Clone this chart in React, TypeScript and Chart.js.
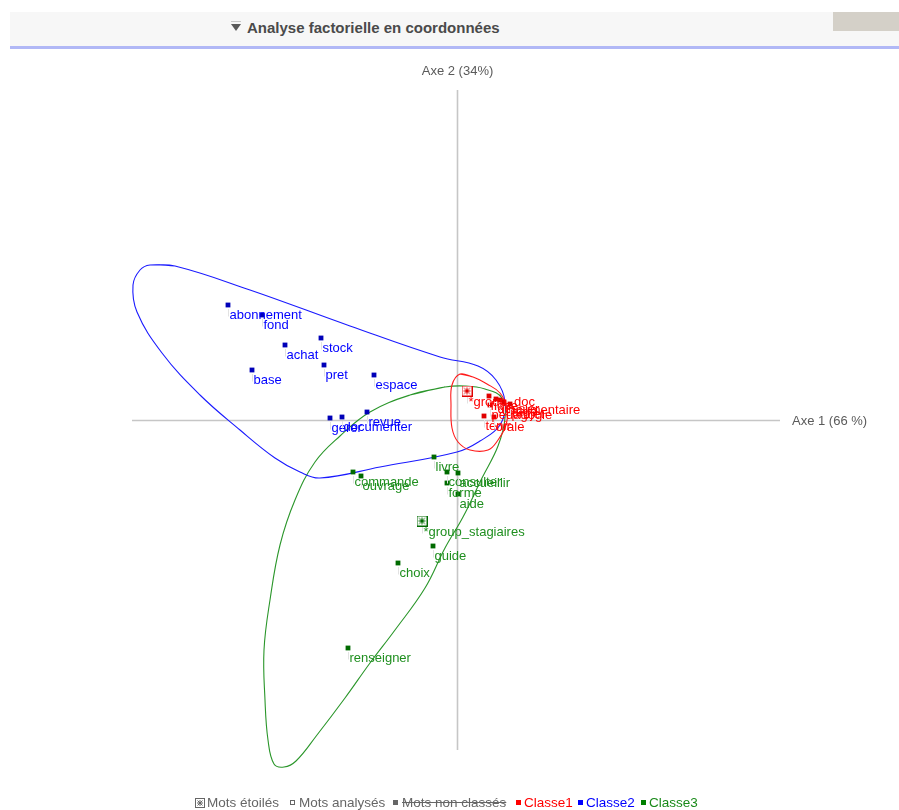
import React, { useEffect, useRef } from "react";
import { Chart, registerables } from "chart.js";

Chart.register(...registerables);

// ---- Data (factor coordinates: Axe 1 horizontal, Axe 2 vertical) ----
const class1Words = ["fiche", "dossier", "pédagogie", "documentaire", "stage", "projet", "tenir", "orale"];
const class1X = [0.32, 0.39, 0.33, 0.43, 0.47, 0.53, 0.27, 0.37];
const class1Y = [0.24, 0.21, 0.15, 0.2, 0.18, 0.16, 0.04, 0.03];

const class2Words = ["abonnement", "fond", "stock", "achat", "base", "pret", "espace", "revue", "gerer", "documenter"];
const class2X = [-2.29, -1.95, -1.36, -1.72, -2.05, -1.33, -0.83, -0.9, -1.27, -1.15];
const class2Y = [1.15, 1.05, 0.82, 0.75, 0.5, 0.55, 0.45, 0.08, 0.02, 0.03];

const class3Words = ["livre", "commande", "ouvrage", "consulter", "accueillir", "forme", "aide", "guide", "choix", "renseigner"];
const class3X = [-0.23, -1.04, -0.96, -0.1, 0.01, -0.1, 0.01, -0.24, -0.59, -1.09];
const class3Y = [-0.37, -0.52, -0.56, -0.52, -0.53, -0.63, -0.74, -1.26, -1.43, -2.28];

const starWords = ["*group_doc", "*group_stagiaires"];
const starX = [0.1, -0.35];
const starY = [0.29, -1.01];
const starClass = [0, 2];

const class1HullX = [0.03, 0.16, 0.3, 0.43, 0.5, 0.49, 0.41, 0.31, 0.13, 0.01, -0.05, -0.06, -0.05];
const class1HullY = [0.46, 0.43, 0.36, 0.27, 0.12, -0.05, -0.2, -0.3, -0.3, -0.22, -0.08, 0.15, 0.35];

const class2HullX = [-3.07, -2.82, -2.07, -1.07, -0.17, 0.21, 0.39, 0.48, 0.43, 0.23, 0.0, -0.77, -1.37, -1.57, -1.82, -2.17, -2.57, -2.95, -3.2, -3.24, -3.17];
const class2HullY = [1.55, 1.54, 1.3, 0.94, 0.63, 0.54, 0.4, 0.18, -0.05, -0.21, -0.32, -0.47, -0.58, -0.52, -0.38, -0.1, 0.25, 0.67, 1.08, 1.35, 1.5];

const class3HullX = [-0.12, -0.47, -0.87, -1.17, -1.42, -1.62, -1.77, -1.87, -1.93, -1.92, -1.89, -1.83, -1.73, -1.61, -1.4, -1.12, -0.87, -0.62, -0.32, -0.12, 0.06, 0.25, 0.41, 0.48, 0.45, 0.28, 0.08];
const class3HullY = [0.33, 0.25, 0.08, -0.16, -0.42, -0.8, -1.25, -1.8, -2.3, -2.8, -3.2, -3.44, -3.47, -3.41, -3.15, -2.78, -2.43, -2.1, -1.68, -1.28, -0.97, -0.58, -0.26, 0.02, 0.22, 0.31, 0.34];

const axisTitleX = "Axe 1 (66 %)";
const axisTitleY = "Axe 2 (34%)";
const headerTitle = "Analyse factorielle en coordonnées";
const legendLabels = ["Mots étoilés", "Mots analysés", "Mots non classés", "Classe1", "Classe2", "Classe3"];

const classColors = ["#ff0000", "#0000ff", "#1f8f1f"];
const markerColors = ["#e00000", "#0000b8", "#006a00"];
const hullColors = ["#ff1a1a", "#1a1aff", "#2a962a"];

const LABEL_FONT = '13px "Liberation Sans", Arial, sans-serif';

function toPoints(xs: number[], ys: number[]) {
  return xs.map((x, i) => ({ x, y: ys[i] }));
}
function closedLoop(xs: number[], ys: number[]) {
  const pts = toPoints(xs, ys);
  return [...pts, pts[0], pts[1]];
}

function makeStarIcon(color: string) {
  const c = document.createElement("canvas");
  c.width = 11;
  c.height = 11;
  const g = c.getContext("2d")!;
  g.fillStyle = "#ffffff";
  g.fillRect(0, 0, 11, 11);
  g.strokeStyle = color;
  g.lineWidth = 1;
  g.strokeRect(0.5, 0.5, 10, 10);
  g.beginPath();
  g.moveTo(5.5, 2);
  g.lineTo(5.5, 9);
  g.moveTo(2, 5.5);
  g.lineTo(9, 5.5);
  g.moveTo(2.5, 2.5);
  g.lineTo(8.5, 8.5);
  g.moveTo(8.5, 2.5);
  g.lineTo(2.5, 8.5);
  g.stroke();
  return c;
}

const axesPlugin = {
  id: "crossAxes",
  beforeDatasetsDraw(chart: any) {
    const { ctx, chartArea, scales } = chart;
    const x0 = Math.round(scales.x.getPixelForValue(0)) + 0.5;
    const y0 = Math.round(scales.y.getPixelForValue(0)) + 0.5;
    ctx.save();
    ctx.strokeStyle = "#c6c6c6";
    ctx.lineWidth = 1.6;
    ctx.beginPath();
    ctx.moveTo(chartArea.left, y0);
    ctx.lineTo(chartArea.right - 2, y0);
    ctx.moveTo(x0, chartArea.top);
    ctx.lineTo(x0, chartArea.bottom);
    ctx.stroke();
    ctx.fillStyle = "#5a5a5a";
    ctx.font = '13px "Liberation Sans", Arial, sans-serif';
    ctx.textAlign = "center";
    ctx.textBaseline = "alphabetic";
    ctx.fillText(axisTitleY, x0, chartArea.top - 15);
    ctx.textAlign = "left";
    ctx.fillText(axisTitleX, chartArea.right + 10, y0 + 4);
    ctx.restore();
  },
};

const labelPlugin = {
  id: "wordLabels",
  afterDatasetsDraw(chart: any) {
    const { ctx } = chart;
    ctx.save();
    ctx.font = LABEL_FONT;
    ctx.textAlign = "left";
    ctx.textBaseline = "alphabetic";
    chart.data.datasets.forEach((ds: any, di: number) => {
      if (!ds.wordLabels) return;
      const meta = chart.getDatasetMeta(di);
      meta.data.forEach((el: any, i: number) => {
        const big = ds.isStar;
        const off = big ? 14.5 : 13.5;
        ctx.strokeStyle = "#e2e2e2";
        ctx.lineWidth = 1;
        ctx.beginPath();
        ctx.moveTo(Math.round(el.x) + 0.5, el.y + (big ? 6 : 4));
        ctx.lineTo(Math.round(el.x) + 0.5, el.y + off - 2);
        ctx.stroke();
        ctx.fillStyle = ds.textColor;
        ctx.fillText(ds.wordLabels[i], el.x + 1.5, el.y + off);
      });
    });
    ctx.restore();
  },
};

function ChartCanvas() {
  const ref = useRef<HTMLCanvasElement | null>(null);
  useEffect(() => {
    if (!ref.current) return;
    const hulls = [
      [class1HullX, class1HullY],
      [class2HullX, class2HullY],
      [class3HullX, class3HullY],
    ];
    const words = [
      [class1Words, class1X, class1Y],
      [class2Words, class2X, class2Y],
      [class3Words, class3X, class3Y],
    ] as any[];
    const datasets: any[] = [];
    words.forEach((w, k) => {
      datasets.push({
        label: "Classe" + (k + 1),
        data: toPoints(w[1], w[2]),
        wordLabels: w[0],
        textColor: classColors[k],
        pointStyle: "rect",
        pointRadius: 3.4,
        backgroundColor: markerColors[k],
        borderColor: markerColors[k],
        borderWidth: 0,
        showLine: false,
        clip: false,
      });
    });
    [0, 1].forEach((s) => {
      const k = starClass[s];
      datasets.push({
        label: starWords[s],
        data: [{ x: starX[s], y: starY[s] }],
        wordLabels: [starWords[s]],
        isStar: true,
        textColor: classColors[k],
        pointStyle: makeStarIcon(markerColors[k]),
        pointRadius: 5,
        showLine: false,
        clip: false,
      });
    });
    hulls.forEach((h, k) => {
      datasets.push({
        label: "hull" + (k + 1),
        data: closedLoop(h[0], h[1]),
        showLine: true,
        tension: 0.4,
        borderColor: hullColors[k],
        borderWidth: 1.1,
        pointRadius: 0,
        fill: false,
        clip: false,
      });
    });
    const chart = new Chart(ref.current, {
      type: "scatter",
      data: { datasets },
      options: {
        animation: false,
        responsive: false,
        devicePixelRatio: 1,
        layout: { padding: { left: 132, right: 117, top: 90, bottom: 60 } },
        scales: {
          x: { type: "linear", min: -3.25, max: 3.25, display: false },
          y: { type: "linear", min: -3.3, max: 3.3, display: false },
        },
        plugins: { legend: { display: false }, tooltip: { enabled: false }, title: { display: false } },
      },
      plugins: [axesPlugin, labelPlugin],
    } as any);
    return () => chart.destroy();
  }, []);
  return <canvas ref={ref} width={899} height={810} style={{ position: "absolute", left: 0, top: 0 }} />;
}

function StarIconSvg() {
  return (
    <svg width={10} height={10} style={{ position: "absolute", left: 195, top: 798 }}>
      <rect x={0.5} y={0.5} width={9} height={9} fill="#fff" stroke="#666" />
      <path d="M5 2 V8 M2 5 H8 M2.5 2.5 L7.5 7.5 M7.5 2.5 L2.5 7.5" stroke="#666" strokeWidth={1} />
    </svg>
  );
}

export default function App() {
  const legendFont: React.CSSProperties = {
    position: "absolute",
    top: 795,
    fontFamily: '"Liberation Sans", Arial, sans-serif',
    fontSize: 13.5,
    lineHeight: "16px",
    whiteSpace: "nowrap",
  };
  const sq = (left: number, color: string, hollow = false): React.CSSProperties => ({
    position: "absolute",
    left,
    top: 800,
    width: hollow ? 3 : 5,
    height: hollow ? 3 : 5,
    background: hollow ? "#fff" : color,
    border: hollow ? "1px solid " + color : "none",
  });
  return (
    <div style={{ position: "absolute", left: 0, top: 0, width: 899, height: 810, background: "#fff", overflow: "hidden" }}>
      <ChartCanvas />
      <div style={{ position: "absolute", left: 10, top: 12, width: 889, height: 34, background: "#f7f7f7" }} />
      <div style={{ position: "absolute", left: 10, top: 46, width: 889, height: 3, background: "#b1b8f6" }} />
      <div style={{ position: "absolute", left: 833, top: 12, width: 66, height: 19, background: "#d4d0c8" }} />
      <div style={{ position: "absolute", left: 231, top: 21, width: 10, height: 1, background: "#c8c8c8" }} />
      <div
        style={{
          position: "absolute",
          left: 231,
          top: 24,
          width: 0,
          height: 0,
          borderLeft: "5px solid transparent",
          borderRight: "5px solid transparent",
          borderTop: "7px solid #5a5a5a",
        }}
      />
      <div
        style={{
          position: "absolute",
          left: 247,
          top: 19,
          fontFamily: '"Liberation Sans", Arial, sans-serif',
          fontWeight: "bold",
          fontSize: 15,
          lineHeight: "18px",
          color: "#4a4a4a",
          whiteSpace: "nowrap",
        }}
      >
        {headerTitle}
      </div>
      <StarIconSvg />
      <span style={{ ...legendFont, left: 207, color: "#666" }}>{legendLabels[0]}</span>
      <div style={sq(290, "#666", true)} />
      <span style={{ ...legendFont, left: 299, color: "#666" }}>{legendLabels[1]}</span>
      <div style={sq(393, "#666")} />
      <span style={{ ...legendFont, left: 402, color: "#666", textDecoration: "line-through" }}>{legendLabels[2]}</span>
      <div style={sq(516, classColors[0])} />
      <span style={{ ...legendFont, left: 524, color: classColors[0] }}>{legendLabels[3]}</span>
      <div style={sq(578, classColors[1])} />
      <span style={{ ...legendFont, left: 586, color: classColors[1] }}>{legendLabels[4]}</span>
      <div style={sq(641, "#008000")} />
      <span style={{ ...legendFont, left: 649, color: "#1a8a1a" }}>{legendLabels[5]}</span>
    </div>
  );
}
